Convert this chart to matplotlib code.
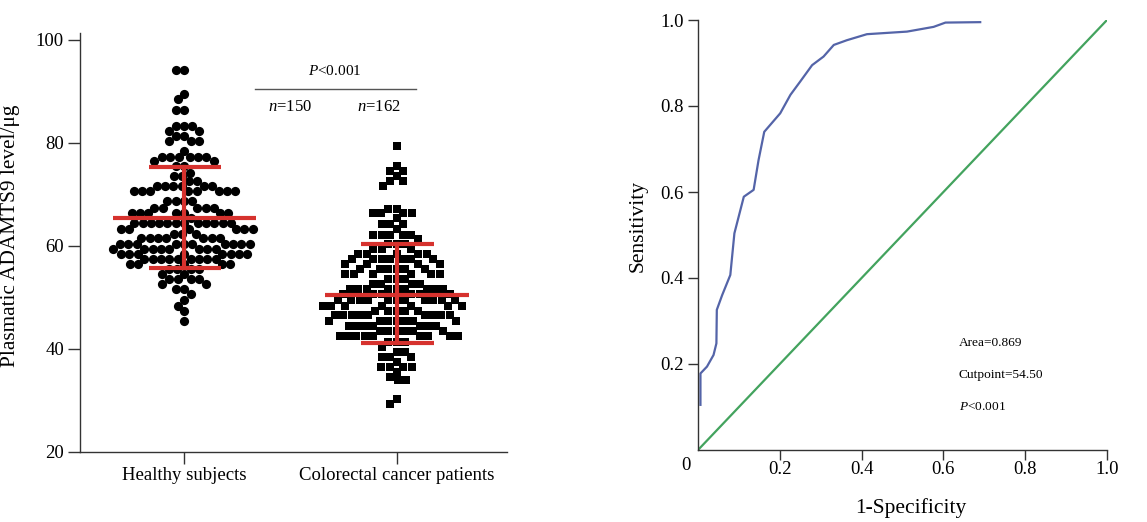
import numpy as np
import matplotlib
matplotlib.use('Agg')
import matplotlib.pyplot as plt

plt.rcParams['font.family'] = ['Liberation Serif', 'DejaVu Serif']
plt.rcParams['mathtext.fontset'] = 'custom'
plt.rcParams['mathtext.rm'] = 'Liberation Serif'
plt.rcParams['mathtext.it'] = 'Liberation Serif:italic'

# scatter values (level, number of points at that level)
healthy_levels = [94.2, 89.5, 88.4, 86.4, 83.2, 82.3, 81.3, 80.3, 78.4, 77.2, 76.5, 75.4,
                  74.2, 73.5, 72.5, 71.6, 70.6, 68.7, 67.4, 66.3, 65.4, 64.5, 63.2, 62.3,
                  61.6, 60.3, 59.3, 58.4, 57.4, 56.4, 55.5, 54.5, 53.5, 52.6, 51.6, 50.6,
                  49.4, 48.4, 47.4, 45.5]
healthy_counts = [2, 1, 1, 2, 3, 2, 2, 3, 1, 6, 2, 2,
                  1, 2, 2, 6, 8, 4, 5, 7, 1, 12, 6, 3,
                  7, 10, 8, 8, 9, 5, 4, 2, 4, 2, 2, 1,
                  1, 1, 1, 1]
cancer_levels = [79.3, 75.4, 74.5, 73.5, 72.5, 71.6, 67.2, 66.3, 65.4, 64.3, 63.2, 62.2,
                 61.3, 60.3, 59.3, 58.4, 57.4, 56.5, 55.5, 54.5, 53.5, 52.6, 51.6, 50.6,
                 49.4, 48.4, 47.4, 46.5, 45.5, 44.5, 43.5, 42.6, 41.3, 40.3, 39.4, 38.4,
                 37.4, 36.5, 35.5, 34.5, 33.9, 30.3, 29.4]
cancer_counts = [1, 1, 2, 1, 2, 1, 2, 4, 1, 3, 1, 5,
                 1, 3, 3, 5, 7, 4, 6, 6, 3, 4, 9, 6,
                 11, 7, 5, 9, 7, 7, 6, 9, 3, 1, 2, 3,
                 1, 4, 1, 1, 2, 1, 1]
groups = ['Healthy subjects', 'Colorectal cancer patients']
means = [65.4, 50.5]
sd_upper = [75.3, 60.3]
sd_lower = [55.7, 41.2]

# ROC curve
fpr = [0.006, 0.006, 0.022, 0.038, 0.045, 0.046, 0.059, 0.079, 0.089, 0.112, 0.136, 0.148,
       0.162, 0.201, 0.226, 0.250, 0.279, 0.307, 0.332, 0.364, 0.413, 0.511, 0.576, 0.605, 0.690]
tpr = [0.105, 0.178, 0.194, 0.221, 0.248, 0.326, 0.360, 0.407, 0.504, 0.589, 0.605, 0.674,
       0.740, 0.783, 0.826, 0.857, 0.895, 0.915, 0.942, 0.953, 0.967, 0.973, 0.984, 0.994, 0.995]


def swarm(vals, d, ypx):
    # simple beeswarm in pixel space, returns offsets in pixels
    order = np.argsort(vals)[::-1]
    placed = []
    offs = np.zeros(len(vals))
    for i in order:
        y = vals[i] * ypx
        cands = [0.0]
        for px, py in placed:
            dy = abs(py - y)
            if dy < d:
                dx = np.sqrt(d * d - dy * dy)
                cands += [px - dx, px + dx]
        cands.sort(key=abs)
        for c in cands:
            ok = True
            for px, py in placed:
                if (px - c) ** 2 + (py - y) ** 2 < d * d - 1e-6:
                    ok = False
                    break
            if ok:
                break
        placed.append((c, y))
        offs[i] = c
    return offs


fig = plt.figure(figsize=(11.47, 5.22), dpi=100)
ax1 = fig.add_axes([80/1147, 70/522, 427/1147, 419/522])
ax2 = fig.add_axes([698/1147, 72/522, 409/1147, 430/522])

ylo, yhi = 20, 101.3
xlo, xhi = -0.49, 1.52
ypx = 419 / (yhi - ylo)
xpx = 427 / (xhi - xlo)

h = np.repeat(healthy_levels, healthy_counts)
c = np.repeat(cancer_levels, cancer_counts)
hx = swarm(h, 8.3, ypx) / xpx
cx = swarm(c, 8.3, ypx) / xpx

ax1.scatter(0 + hx, h, s=44, marker='o', color='black', linewidths=0, zorder=2)
ax1.scatter(1 + cx, c, s=34, marker='s', color='black', linewidths=0, zorder=2)

red = '#d6322e'
for i in range(2):
    ax1.plot([i - 0.335, i + 0.34], [means[i], means[i]], color=red, lw=3, zorder=3, solid_capstyle='butt')
    ax1.plot([i - 0.165, i + 0.175], [sd_upper[i], sd_upper[i]], color=red, lw=3, zorder=3, solid_capstyle='butt')
    ax1.plot([i - 0.165, i + 0.175], [sd_lower[i], sd_lower[i]], color=red, lw=3, zorder=3, solid_capstyle='butt')
    ax1.plot([i, i], [sd_lower[i], sd_upper[i]], color=red, lw=3, zorder=3)

ax1.plot([0.335, 1.09], [90.5, 90.5], color='#555555', lw=1)
ax1.text(0.71, 94, '$P$<0.001', ha='center', va='center', fontsize=11)
ax1.text(0.50, 87, '$n$=150', ha='center', va='center', fontsize=12)
ax1.text(0.915, 87, '$n$=162', ha='center', va='center', fontsize=12)

ax1.set_xlim(xlo, xhi)
ax1.set_ylim(ylo, yhi)
ax1.set_yticks([20, 40, 60, 80, 100])
ax1.set_xticks([0, 1])
ax1.set_xticklabels(groups)
ax1.set_ylabel('Plasmatic ADAMTS9 level/μg', fontsize=15.3)
ax1.yaxis.set_label_coords(-0.14, 0.517)

for ax in (ax1, ax2):
    ax.spines['top'].set_visible(False)
    ax.spines['right'].set_visible(False)
    for s in ('left', 'bottom'):
        ax.spines[s].set_linewidth(1.0)
        ax.spines[s].set_color('#333333')
    ax.tick_params(direction='out', width=1.0, color='#333333', labelsize=13.5)
ax1.tick_params(axis='y', length=8.5, pad=3)
ax1.tick_params(axis='x', length=8.5, pad=2, labelsize=13.5)

# ROC panel
ax2.plot([0, 1], [0, 1], color='#43a35e', lw=1.6)
ax2.plot(fpr, tpr, color='#5464a8', lw=1.6)
ax2.set_xlim(0, 1)
ax2.set_ylim(0, 1)
ax2.set_xticks([0.2, 0.4, 0.6, 0.8, 1.0])
ax2.set_xticklabels(['0.2', '0.4', '0.6', '0.8', '1.0'])
ax2.set_yticks([0.2, 0.4, 0.6, 0.8, 1.0])
ax2.set_yticklabels(['0.2', '0.4', '0.6', '0.8', '1.0'])
ax2.tick_params(axis='x', length=7, pad=1)
ax2.tick_params(axis='y', length=7, pad=3)
ax2.text(-0.03, -0.035, '0', transform=ax2.transAxes, ha='center', va='center', fontsize=13.5)
ax2.set_xlabel('1-Specificity', fontsize=15.5)
ax2.xaxis.set_label_coords(0.52, -0.113)
ax2.set_ylabel('Sensitivity', fontsize=15.5)
ax2.yaxis.set_label_coords(-0.122, 0.52)

ax2.text(0.637, 0.248, 'Area=0.869', ha='left', va='center', fontsize=9.6)
ax2.text(0.637, 0.174, 'Cutpoint=54.50', ha='left', va='center', fontsize=9.6)
ax2.text(0.637, 0.100, '$P$<0.001', ha='left', va='center', fontsize=9.6)

fig.savefig('out.png', dpi=100)
